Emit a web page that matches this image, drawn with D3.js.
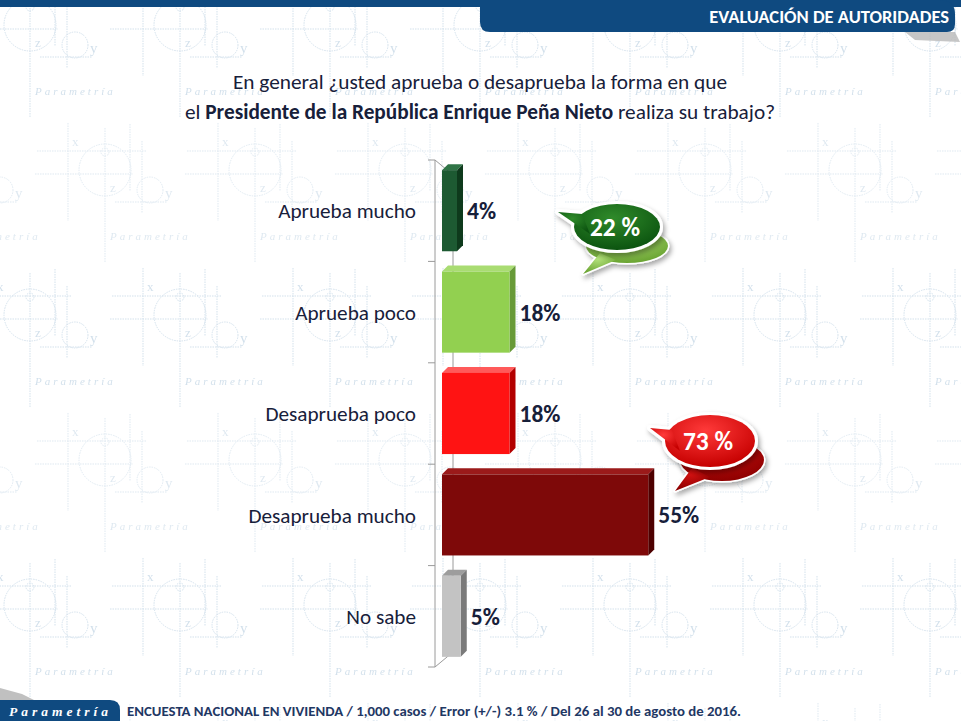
<!DOCTYPE html>
<html lang="es">
<head>
<meta charset="UTF-8">
<title>Evaluación de autoridades</title>
<script src="https://cdn.jsdelivr.net/npm/d3@7"></script>
<style>
  body { margin: 0; background: #fff; }
  svg { display: block; font-family: Carlito, "Open Sans", sans-serif; }
</style>
</head>
<body>
<script>
const categories = ["Aprueba mucho", "Aprueba poco", "Desaprueba poco", "Desaprueba mucho", "No sabe"];
const values = [4, 18, 18, 55, 5];
const frontColors = ["#1d5a32", "#92d050", "#ff1313", "#7e0909", "#c3c3c3"];
const sideColors = ["#0e3a1c", "#679a38", "#b30000", "#4e0000", "#7a7a7a"];
const topColors = ["#2f7446", "#a9dc72", "#ff5a5a", "#9b1a1a", "#9d9d9d"];
// burbujas: suma de aprueba / desaprueba
const groupMembers = [[0, 1], [2, 3]];

const width = 961, height = 721;
const navy = "#17203a";

const svg = d3.select("body").append("svg")
    .attr("width", width)
    .attr("height", height);

const defs = svg.append("defs");

/* ---------- fondo marca de agua ---------- */
const tileW = 150, tileH = 290;
const pat = defs.append("pattern")
    .attr("id", "wm")
    .attr("patternUnits", "userSpaceOnUse")
    .attr("width", tileW)
    .attr("height", tileH);

function motif(g, cx, cy, op) {
    let m = g.append("g")
        .attr("transform", `translate(${cx},${cy})`)
        .attr("stroke", "#bfd3e3")
        .attr("fill", "none")
        .attr("stroke-dasharray", "1.5 1")
        .attr("opacity", op);
    m.append("circle").attr("r", 26);
    m.append("circle").attr("cy", -18).attr("r", 4);
    m.append("circle").attr("cx", 45).attr("cy", 20).attr("r", 13);
    [[-37, -47, -37, 51], [0, -42, 0, 93], [25, -46, 25, 21], [37, -29, 37, 43],
     [-68, -19, 42, -19], [-70, 4, 28, 4], [10, 32, 62, 32]].forEach(l => {
        m.append("line").attr("x1", l[0]).attr("y1", l[1]).attr("x2", l[2]).attr("y2", l[3]);
    });
    let t = m.append("g").attr("fill", "#bfd3e3").attr("stroke", "none")
        .attr("font-family", "Liberation Serif, serif");
    t.append("text").attr("x", -33).attr("y", -24).attr("font-size", 13).text("x");
    t.append("text").attr("x", 5).attr("y", 22).attr("font-size", 13).text("z");
    t.append("text").attr("x", 60).attr("y", 28).attr("font-size", 15).text("y");
    t.append("text").attr("x", 5).attr("y", 70).attr("font-size", 11)
        .attr("font-style", "italic").attr("letter-spacing", 3).text("Parametría");
}
// cada motivo se repite en las celdas vecinas para que no se corte
[[30, 25, 0.7], [105, 170, 0.5]].forEach(p => {
    [-1, 0, 1].forEach(kx => [-1, 0, 1].forEach(ky => {
        motif(pat, p[0] + kx * tileW, p[1] + ky * tileH, p[2]);
    }));
});

svg.append("rect")
    .attr("width", width)
    .attr("height", height)
    .attr("fill", "url(#wm)");

/* ---------- cabecera ---------- */
const blue = "#0f4a80";
svg.append("rect").attr("x", 0).attr("y", 0).attr("width", width).attr("height", 7).attr("fill", blue);
svg.append("path")
    .attr("d", "M905,32 L955,32 L960,42 L915,40 Z")
    .attr("fill", "#b8b8b8").attr("opacity", 0.8);
svg.append("path")
    .attr("d", "M480,0 L940,0 Q955,0 955,14 L955,24 Q955,32 947,32 L490,32 Q480,32 480,22 Z")
    .attr("fill", blue);
svg.append("text")
    .attr("x", 949).attr("y", 23)
    .attr("text-anchor", "end")
    .attr("fill", "#fff")
    .attr("font-weight", "bold")
    .attr("font-size", 18.5)
    .text("EVALUACIÓN DE AUTORIDADES");

/* ---------- titulo ---------- */
const title = svg.append("g").attr("fill", navy).attr("font-size", 21.3).attr("text-anchor", "middle");
title.append("text").attr("x", 480).attr("y", 89)
    .text("En general ¿usted aprueba o desaprueba la forma en que");
let t2 = title.append("text").attr("x", 480).attr("y", 119);
t2.append("tspan").text("el ");
t2.append("tspan").attr("font-weight", "bold").text("Presidente de la República Enrique Peña Nieto");
t2.append("tspan").text(" realiza su trabajo?");

/* ---------- escalas ---------- */
const y = d3.scaleBand()
    .domain(categories)
    .range([160, 667])
    .paddingInner(0.2)
    .paddingOuter(0.1);

const x = d3.scaleLinear()
    .domain([0, 60])
    .range([442, 667]);

const depth = 6;
const bw = y.bandwidth();
const gap = (y.step() - bw) / 2;

/* ---------- eje 3D ---------- */
const axisX = 435, backX = 453;
const yTop = y(categories[0]) - gap;
const yBot = y(categories[categories.length - 1]) + bw + gap;
const axis = svg.append("g").attr("stroke", "#9a9a9a").attr("fill", "none");
axis.append("line").attr("x1", axisX).attr("x2", axisX).attr("y1", yTop).attr("y2", yBot);
axis.append("line").attr("x1", backX).attr("x2", backX).attr("y1", yTop + 15).attr("y2", yBot - 15);
axis.append("line").attr("x1", axisX).attr("y1", yTop).attr("x2", backX).attr("y2", yTop + 15);
axis.append("line").attr("x1", axisX).attr("y1", yBot).attr("x2", backX).attr("y2", yBot - 15);
const tickYs = categories.map(c => y(c) - gap).concat([yBot]);
axis.selectAll(".tick").data(tickYs).enter().append("line")
    .attr("x1", axisX - 7).attr("x2", axisX)
    .attr("y1", d => d).attr("y2", d => d);

/* ---------- barras ---------- */
const bars = svg.selectAll(".bar")
    .data(values)
    .enter()
    .append("g")
    .attr("class", "bar");

bars.append("path")
    .attr("fill", (d, i) => topColors[i])
    .attr("d", (d, i) => {
        let y0 = y(categories[i]), x0 = x(0), x1 = x(d);
        return `M${x0},${y0}L${x0 + depth},${y0 - depth}L${x1 + depth},${y0 - depth}L${x1},${y0}Z`;
    });

bars.append("path")
    .attr("fill", (d, i) => sideColors[i])
    .attr("d", (d, i) => {
        let y0 = y(categories[i]), x1 = x(d);
        return `M${x1},${y0}L${x1 + depth},${y0 - depth}L${x1 + depth},${y0 + bw - depth}L${x1},${y0 + bw}Z`;
    });

bars.append("rect")
    .attr("x", x(0))
    .attr("y", (d, i) => y(categories[i]))
    .attr("width", d => x(d) - x(0))
    .attr("height", bw)
    .attr("fill", (d, i) => frontColors[i]);

bars.append("text")
    .attr("x", d => x(d) + depth + 4)
    .attr("y", (d, i) => y(categories[i]) + bw / 2)
    .attr("dy", "0.36em")
    .attr("fill", navy)
    .attr("font-weight", "bold")
    .attr("font-size", 23.5)
    .text(d => d + "%");

/* ---------- etiquetas de categoria ---------- */
svg.append("g")
    .selectAll("text")
    .data(categories)
    .enter()
    .append("text")
    .attr("x", 416)
    .attr("y", d => y(d) + y.step() / 2 - gap)
    .attr("dy", "0.36em")
    .attr("text-anchor", "end")
    .attr("fill", navy)
    .attr("font-size", 21.2)
    .text(d => d);

/* ---------- burbujas ---------- */
const shadow = defs.append("filter").attr("id", "sh")
    .attr("x", "-30%").attr("y", "-30%").attr("width", "160%").attr("height", "160%");
shadow.append("feDropShadow").attr("dx", 2).attr("dy", 3).attr("stdDeviation", 2.5)
    .attr("flood-color", "#000").attr("flood-opacity", 0.35);

function grad(id, c1, c2) {
    let g = defs.append("radialGradient").attr("id", id)
        .attr("cx", "45%").attr("cy", "30%").attr("r", "70%");
    g.append("stop").attr("offset", "0%").attr("stop-color", c1);
    g.append("stop").attr("offset", "100%").attr("stop-color", c2);
}
grad("gMain", "#2f8a2a", "#0c5410");
grad("gBack", "#b2e07a", "#6aa432");
grad("rMain", "#ff3a3a", "#c60000");
grad("rBack", "#d01010", "#8e0000");

const bubbleSpec = [
    { cx: 617, cy: 227, rx: 43, ry: 23, tail: [[558, 212], [582, 214], [590, 234]], fill: "url(#gMain)",
      back: { cx: 627, cy: 246, rx: 41, ry: 17, tail: [[583, 274], [600, 253], [616, 260]], fill: "url(#gBack)" } },
    { cx: 710, cy: 441, rx: 45, ry: 26, tail: [[650, 428], [672, 430], [680, 451]], fill: "url(#rMain)",
      back: { cx: 722, cy: 460, rx: 42, ry: 21, tail: [[675, 491], [692, 468], [710, 477]], fill: "url(#rBack)" } }
];

function drawBubble(g, b, sw) {
    let s = g.append("g").attr("filter", "url(#sh)");
    let tailPath = `M${b.tail[1][0]},${b.tail[1][1]}L${b.tail[0][0]},${b.tail[0][1]}L${b.tail[2][0]},${b.tail[2][1]}Z`;
    s.append("ellipse").attr("cx", b.cx).attr("cy", b.cy).attr("rx", b.rx).attr("ry", b.ry)
        .attr("fill", "#fff").attr("stroke", "#fff").attr("stroke-width", sw);
    s.append("path").attr("d", tailPath).attr("fill", "#fff").attr("stroke", "#fff")
        .attr("stroke-width", sw).attr("stroke-linejoin", "round");
    g.append("ellipse").attr("cx", b.cx).attr("cy", b.cy).attr("rx", b.rx).attr("ry", b.ry).attr("fill", b.fill);
    g.append("path").attr("d", tailPath).attr("fill", b.fill);
}

bubbleSpec.forEach((b, i) => {
    let g = svg.append("g");
    drawBubble(g, b.back, 3);
    drawBubble(g, b, 6);
    let total = d3.sum(groupMembers[i], k => values[k]);
    g.append("text")
        .attr("x", b.cx - 2)
        .attr("y", b.cy)
        .attr("dy", "0.36em")
        .attr("text-anchor", "middle")
        .attr("fill", "#fff")
        .attr("font-weight", "bold")
        .attr("font-size", 25.5)
        .text(total + " %");
});

/* ---------- pie ---------- */
svg.append("path")
    .attr("d", "M0,688 L22,694 L34,700 L0,700 Z")
    .attr("fill", "#b0b0b0").attr("opacity", 0.8);
svg.append("path")
    .attr("d", "M0,700 L110,700 Q120,700 120,710 L120,721 L0,721 Z")
    .attr("fill", blue);
svg.append("text")
    .attr("x", 9).attr("y", 716)
    .attr("fill", "#fff")
    .attr("font-family", "Liberation Serif, serif")
    .attr("font-style", "italic")
    .attr("font-weight", "bold")
    .attr("font-size", 13.5)
    .attr("letter-spacing", 4)
    .text("Parametría");
svg.append("text")
    .attr("x", 127).attr("y", 716)
    .attr("fill", "#1f3864")
    .attr("font-weight", "bold")
    .attr("font-size", 14.8)
    .text("ENCUESTA NACIONAL EN VIVIENDA / 1,000 casos / Error (+/-) 3.1 % / Del 26 al 30 de agosto de 2016.");
</script>
</body>
</html>
